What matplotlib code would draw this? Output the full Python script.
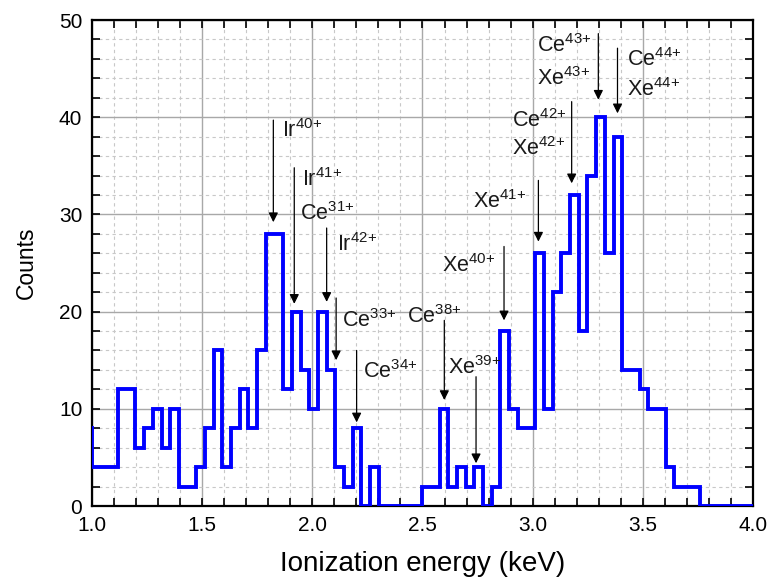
import matplotlib
matplotlib.use("Agg")
import matplotlib.pyplot as plt
import numpy as np
from matplotlib.ticker import MultipleLocator

plt.rcParams['font.family'] = ['Liberation Sans', 'DejaVu Sans']
plt.rcParams['mathtext.fontset'] = 'custom'
plt.rcParams['mathtext.rm'] = 'Liberation Sans'
plt.rcParams['mathtext.it'] = 'Liberation Sans'
plt.rcParams['mathtext.bf'] = 'Liberation Sans'

# Bin edges (keV)
edges = [0.961, 1.000, 1.039, 1.079, 1.118, 1.158, 1.197, 1.237, 1.276, 1.316,
         1.355, 1.395, 1.434, 1.473, 1.513, 1.552, 1.592, 1.631, 1.671, 1.710,
         1.750, 1.789, 1.828, 1.868, 1.907, 1.947, 1.986, 2.026, 2.065, 2.105,
         2.144, 2.184, 2.223, 2.262, 2.302, 2.341, 2.381, 2.420, 2.460, 2.499,
         2.539, 2.578, 2.617, 2.657, 2.696, 2.736, 2.775, 2.815, 2.854, 2.894,
         2.933, 2.972, 3.012, 3.051, 3.091, 3.130, 3.170, 3.209, 3.248, 3.288,
         3.327, 3.367, 3.406, 3.446, 3.485, 3.524, 3.564, 3.603, 3.643, 3.682,
         3.722, 3.761, 3.801, 3.840, 3.880, 3.919, 3.959, 3.998, 4.038]
# Counts per bin
counts = [8, 4, 4, 4, 12, 12, 6, 8, 10, 6,
          10, 2, 2, 4, 8, 16, 4, 8, 12, 8,
          16, 28, 28, 12, 20, 14, 10, 20, 14, 4,
          2, 8, 0, 4, 0, 0, 0, 0, 0, 2,
          2, 10, 2, 4, 2, 4, 0, 2, 18, 10,
          8, 8, 26, 10, 22, 26, 32, 18, 34, 40,
          26, 38, 14, 14, 12, 10, 10, 4, 2, 2,
          2, 0, 0, 0, 0, 0, 0, 0]

# Annotations: label, text x, text y, arrow x, arrow top y, arrow tip y
ann_labels = [r"Ir$^{40{+}}$", r"Ir$^{41{+}}$", r"Ce$^{31{+}}$", r"Ir$^{42{+}}$",
              r"Ce$^{33{+}}$", r"Ce$^{34{+}}$", r"Ce$^{38{+}}$", r"Xe$^{39{+}}$",
              r"Xe$^{40{+}}$", r"Xe$^{41{+}}$", r"Ce$^{42{+}}$", r"Xe$^{42{+}}$",
              r"Ce$^{43{+}}$", r"Xe$^{43{+}}$", r"Ce$^{44{+}}$", r"Xe$^{44{+}}$"]
ann_tx = [1.864, 1.952, 1.944, 2.110, 2.133, 2.229, 2.431, 2.618,
          2.587, 2.731, 2.905, 2.905, 3.021, 3.021, 3.427, 3.427]
ann_ty = [38.6, 33.6, 30.1, 26.9, 19.1, 13.8, 19.5, 14.2,
          24.7, 31.3, 39.7, 36.8, 47.4, 44.0, 45.9, 42.8]
arr_x = [1.823, 1.918, 2.065, 2.108, 2.201, 2.599, 2.743, 2.870, 3.026, 3.177, 3.298, 3.385]
arr_top = [39.7, 34.8, 28.6, 21.4, 16.0, 19.1, 13.3, 26.7, 33.5, 41.6, 48.6, 47.1]
arr_tip = [29.2, 20.8, 21.0, 15.0, 8.6, 10.9, 4.4, 19.1, 27.2, 33.2, 41.8, 40.4]

fig = plt.figure(figsize=(7.73, 5.82), dpi=100)
ax = fig.add_axes([92/773, 1-506/582, (753-92)/773, (506-20)/582])

ax.stairs(counts, edges, color='#0000ff', linewidth=2.8, baseline=None, zorder=3)

ax.set_xlim(1.0, 4.0)
ax.set_ylim(0, 50)
ax.xaxis.set_major_locator(MultipleLocator(0.5))
ax.xaxis.set_minor_locator(MultipleLocator(0.1))
ax.yaxis.set_major_locator(MultipleLocator(10))
ax.yaxis.set_minor_locator(MultipleLocator(2))
ax.xaxis.set_major_formatter(matplotlib.ticker.FormatStrFormatter('%.1f'))

ax.grid(which='major', color='#a8a8a8', linestyle='-', linewidth=1.0, zorder=0)
ax.grid(which='minor', color='#c8c8c8', linestyle=(0, (3, 3)), linewidth=0.8, zorder=0)
ax.set_axisbelow(True)

ax.tick_params(which='both', direction='in', top=True, right=True,
               length=6, width=1.2, color='black')
ax.tick_params(which='major', labelsize=15, pad=7)
for s in ax.spines.values():
    s.set_linewidth(1.6)

ax.set_xlabel("Ionization energy (keV)", fontsize=20, labelpad=12)
ax.set_ylabel("Counts", fontsize=16.5, labelpad=15)

for lab, tx, ty in zip(ann_labels, ann_tx, ann_ty):
    ax.text(tx, ty, lab, fontsize=15.5, ha='left', va='center', color='#1a1a1a', zorder=4)

for x, top, tip in zip(arr_x, arr_top, arr_tip):
    ax.annotate("", xy=(x, tip), xytext=(x, top),
                arrowprops=dict(arrowstyle='-|>', color='black', lw=0.9,
                                mutation_scale=14, shrinkA=0, shrinkB=0),
                zorder=4)

fig.savefig("out.png", dpi=100)
